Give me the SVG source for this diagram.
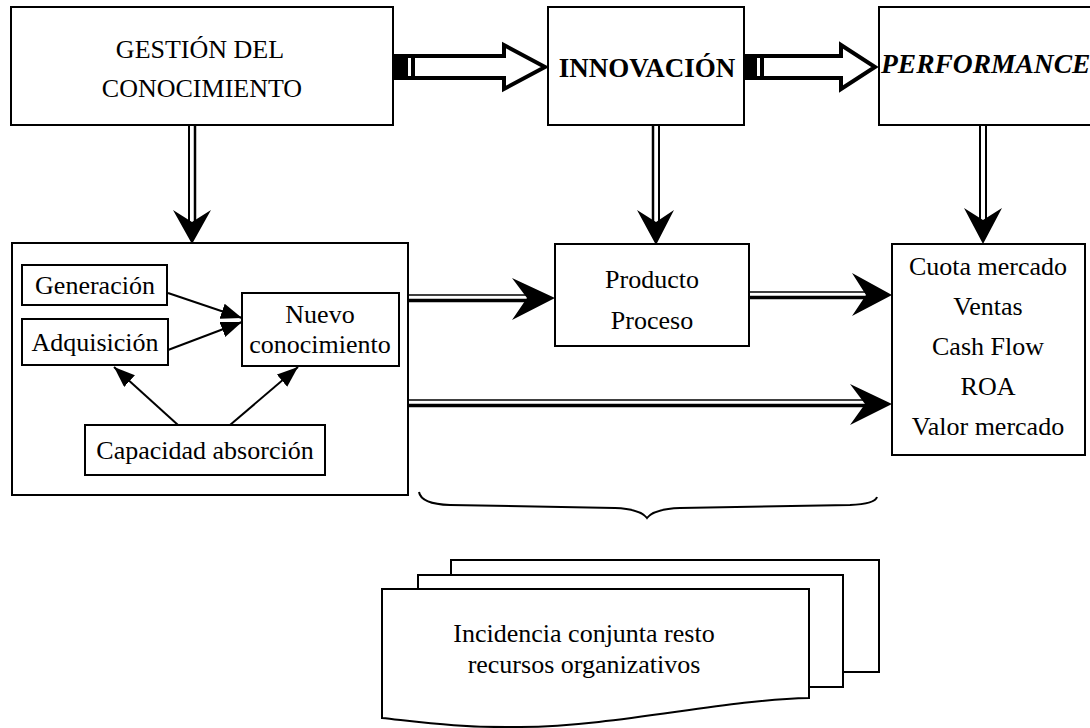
<svg xmlns="http://www.w3.org/2000/svg" width="1090" height="728" viewBox="0 0 1090 728">
  <defs>
    <style>
      .box { fill: #fff; stroke: #000; stroke-width: 2; }
      .t { font-family: "Liberation Serif", "Times New Roman", serif; font-size: 26px; fill: #000; }
      .c { text-anchor: middle; }
      .b { font-weight: bold; font-size: 27px; }
      .bi { font-weight: bold; font-style: italic; font-size: 27.5px; }
      .thin { stroke: #000; stroke-width: 2; fill: none; }
      .dl { stroke: #000; fill: none; }
      .head { fill: #000; stroke: none; }
      .hollow { fill: #fff; stroke: #000; stroke-width: 4; stroke-linejoin: miter; }
    </style>
    <marker id="tri" markerUnits="userSpaceOnUse" markerWidth="24" markerHeight="18" refX="21" refY="8" orient="auto">
      <path d="M0,0 L21,8 L0,16 Z" fill="#000"/>
    </marker>
  </defs>

  <!-- top row -->
  <g id="gestion">
    <rect class="box" x="11" y="7" width="382" height="118"/>
    <text class="t c" x="200" y="58">GESTIÓN DEL</text>
    <text class="t c" x="202" y="97">CONOCIMIENTO</text>
  </g>
  <g id="innovacion">
    <rect class="box" x="548" y="7" width="196" height="118"/>
    <text class="t c b" x="647" y="77">INNOVACIÓN</text>
  </g>
  <g id="performance">
    <rect class="box" x="879" y="7" width="220" height="118"/>
    <text class="t bi" x="881" y="73">PERFORMANCE</text>
  </g>

  <!-- knowledge management detail -->
  <g id="gestion-detalle">
    <rect class="box" x="12" y="243" width="396" height="252"/>
  </g>
  <g id="generacion">
    <rect class="box" x="22" y="265" width="145" height="40"/>
    <text class="t c" x="95" y="294">Generación</text>
  </g>
  <g id="adquisicion">
    <rect class="box" x="22" y="319" width="146" height="46"/>
    <text class="t c" x="95" y="351">Adquisición</text>
  </g>
  <g id="nuevo-conocimiento">
    <rect class="box" x="242" y="293" width="157" height="73"/>
    <text class="t c" x="320" y="323">Nuevo</text>
    <text class="t c" x="320" y="353">conocimiento</text>
  </g>
  <g id="capacidad-absorcion">
    <rect class="box" x="85" y="425" width="240" height="50"/>
    <text class="t c" x="205" y="459">Capacidad absorción</text>
  </g>

  <g id="producto-proceso">
    <rect class="box" x="555" y="244" width="194" height="102"/>
    <text class="t c" x="652" y="288">Producto</text>
    <text class="t c" x="652" y="329">Proceso</text>
  </g>

  <g id="indicadores">
    <rect class="box" x="892" y="244" width="193" height="211"/>
    <text class="t c" x="988" y="275">Cuota mercado</text>
    <text class="t c" x="988" y="315">Ventas</text>
    <text class="t c" x="988" y="355">Cash Flow</text>
    <text class="t c" x="988" y="395">ROA</text>
    <text class="t c" x="988" y="435">Valor mercado</text>
  </g>

  <!-- stacked documents -->
  <g id="recursos">
    <path class="box" d="M451,560 H879 V672 H451 Z"/>
    <path class="box" d="M418,575 H843 V687 H418 Z"/>
    <path class="box" d="M382,589 H809 V698 C720,700 620,726 520,727 C460,728 420,722 382,718 Z"/>
    <text class="t c" x="584" y="642">Incidencia conjunta resto</text>
    <text class="t c" x="584" y="673">recursos organizativos</text>
  </g>

  <g id="connectors">
    <!-- hollow block arrows between top boxes -->
    <path class="hollow" d="M409,56 H504 V45 L545,67 L504,89 V78 H409 Z"/>
    <rect x="393" y="54" width="22" height="26" fill="#000"/>
    <rect x="408" y="58" width="3" height="18" fill="#fff"/>

    <path class="hollow" d="M760,56 H841 V45 L875,67 L841,89 V78 H760 Z"/>
    <rect x="744" y="54" width="20" height="26" fill="#000"/>
    <rect x="757" y="58" width="3" height="18" fill="#fff"/>

    <!-- vertical double arrows -->
    <line class="dl" x1="189" y1="126" x2="189" y2="222" stroke-width="2"/>
    <line class="dl" x1="195" y1="126" x2="195" y2="222" stroke-width="2.5"/>
    <path class="head" d="M192,244 L173,210 L192,222 L211,210 Z"/>

    <line class="dl" x1="653" y1="125" x2="653" y2="222" stroke-width="2.5"/>
    <line class="dl" x1="659" y1="125" x2="659" y2="222" stroke-width="2"/>
    <path class="head" d="M656,245 L637,210 L656,222 L674,210 Z"/>

    <line class="dl" x1="980" y1="125" x2="980" y2="220" stroke-width="2"/>
    <line class="dl" x1="986" y1="125" x2="986" y2="220" stroke-width="2"/>
    <path class="head" d="M983,244 L964,208 L983,220 L1002,208 Z"/>

    <!-- horizontal double arrows -->
    <line class="dl" x1="408" y1="295" x2="528" y2="295" stroke-width="1.5"/>
    <line class="dl" x1="408" y1="300.5" x2="528" y2="300.5" stroke-width="3.5"/>
    <path class="head" d="M555,298 L512,278 L527,298 L512,320 Z"/>

    <line class="dl" x1="749" y1="292" x2="866" y2="292" stroke-width="1.5"/>
    <line class="dl" x1="749" y1="297.5" x2="866" y2="297.5" stroke-width="3.5"/>
    <path class="head" d="M892,295 L852,273 L866,295 L852,316 Z"/>

    <line class="dl" x1="408" y1="400" x2="866" y2="400" stroke-width="1.5"/>
    <line class="dl" x1="408" y1="405.5" x2="866" y2="405.5" stroke-width="3.5"/>
    <path class="head" d="M892,404 L850,384 L865,404 L850,425 Z"/>

    <!-- arrows inside the knowledge box -->
    <line class="thin" x1="168" y1="293" x2="242" y2="318" marker-end="url(#tri)"/>
    <line class="thin" x1="168" y1="350" x2="242" y2="322" marker-end="url(#tri)"/>
    <line class="thin" x1="178" y1="425" x2="114" y2="367" marker-end="url(#tri)"/>
    <line class="thin" x1="230" y1="425" x2="298" y2="367" marker-end="url(#tri)"/>

    <!-- brace -->
    <path class="thin" d="M419,492 Q421,504 450,505 L615,508 Q640,509 647,518 Q654,509 680,508 L850,505 Q875,504 877,497"/>
  </g>
</svg>
